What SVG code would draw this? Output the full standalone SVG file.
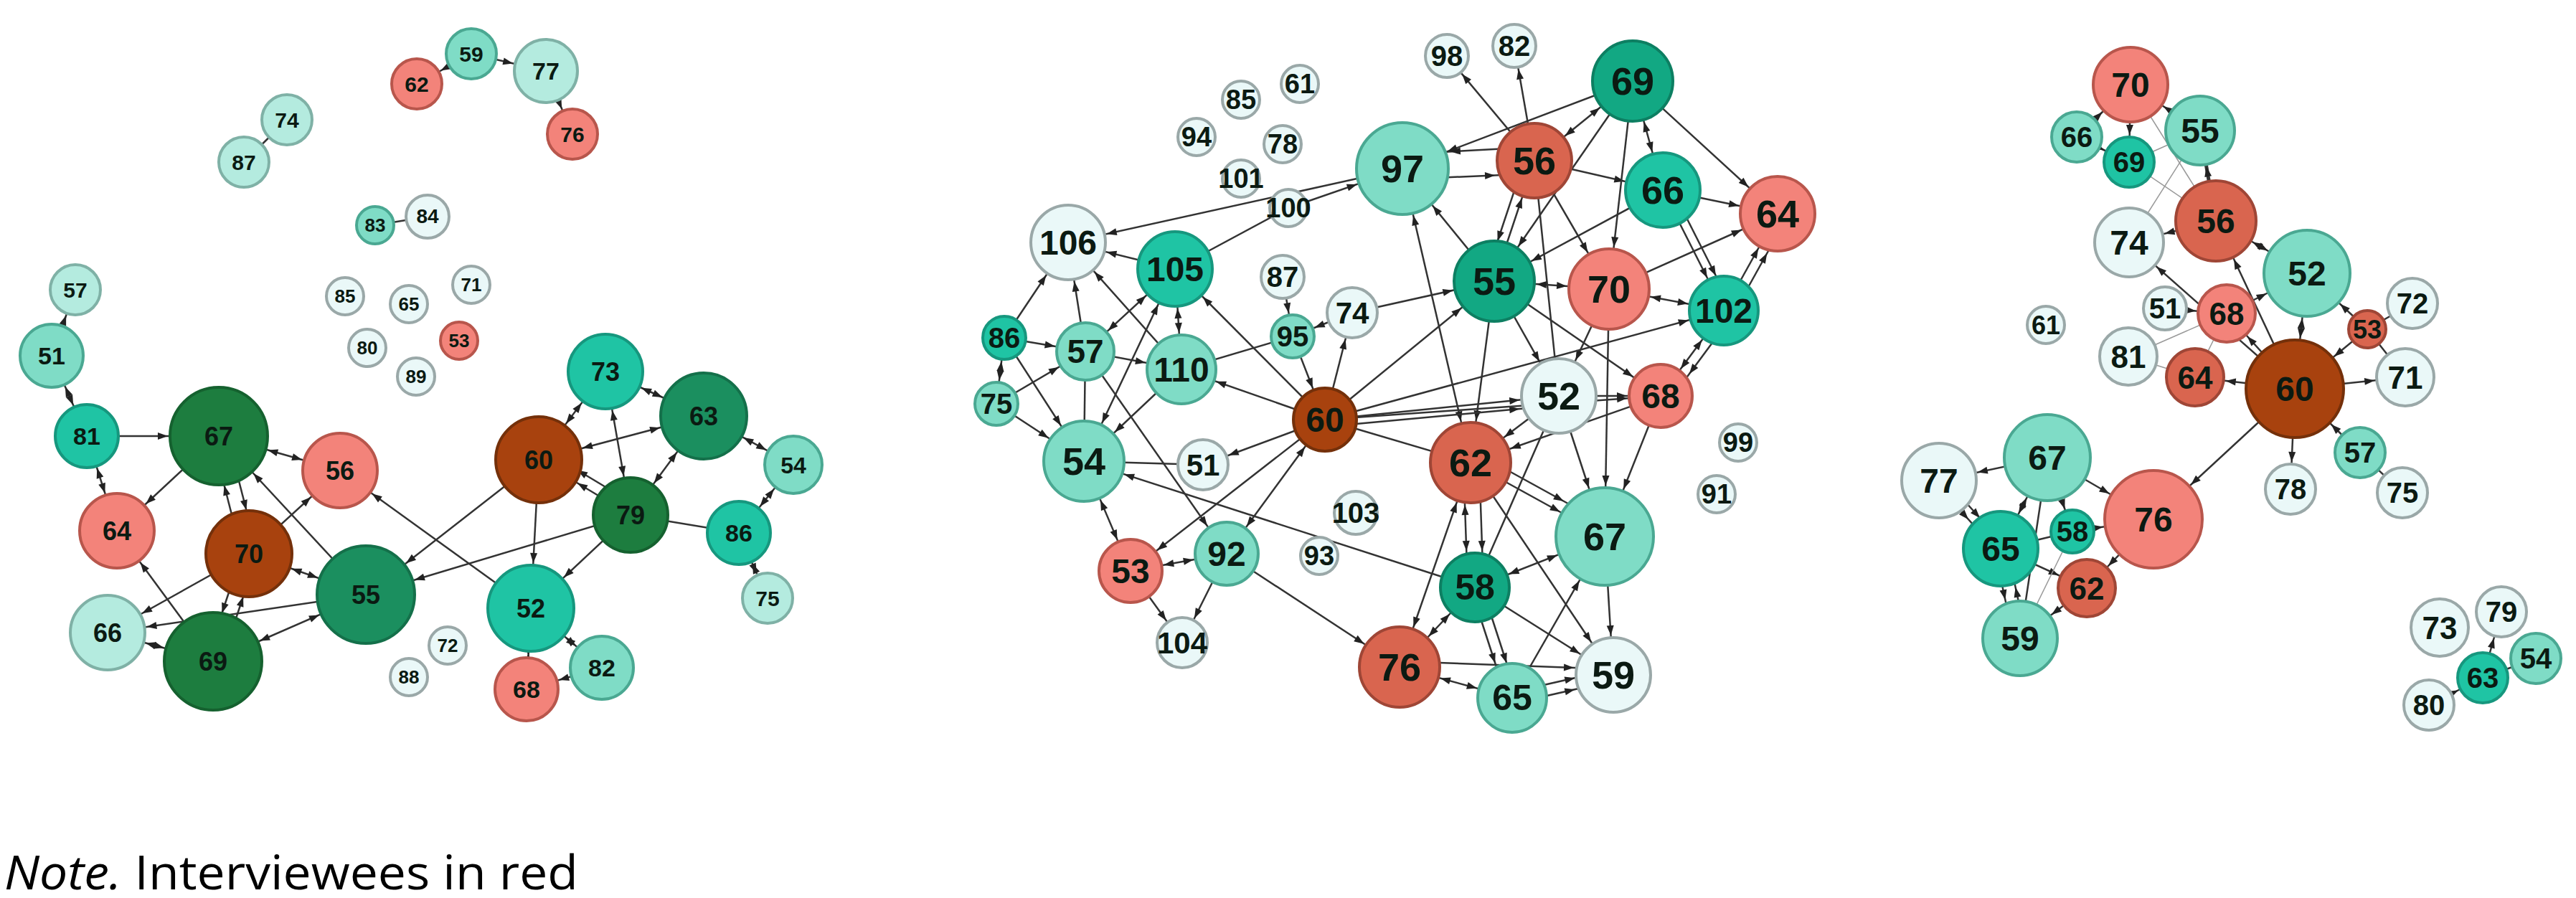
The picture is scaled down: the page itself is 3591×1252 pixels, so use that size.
<svg xmlns="http://www.w3.org/2000/svg" width="3591" height="1252" viewBox="0 0 3591 1252">
<style>
.n circle{stroke-width:4}
.n text{font-family:"Liberation Sans",Arial,sans-serif;font-weight:bold;fill:#0b1a12;text-anchor:middle}
.dg circle{fill:#1d7d3f;stroke:#15612f}
.mg circle{fill:#1b8f5f;stroke:#14704a}
.mg2 circle{fill:#12a883;stroke:#0d7f62}
.tl circle{fill:#1fc4a4;stroke:#16977e}
.lt circle{fill:#7fdcc6;stroke:#4aa892}
.lp circle{fill:#b4ebdf;stroke:#7fb1a6}
.pl circle{fill:#eaf8f8;stroke:#9aa8a8}
.sl circle{fill:#f3837a;stroke:#b8564c}
.sd circle{fill:#d9654f;stroke:#9f4636}
.br circle{fill:#a8420e;stroke:#74300a}
#edges line{stroke:#333;stroke-width:2.5}
#edges line.th{stroke:#999;stroke-width:1.5}
marker path{fill:#222}
.note{font-family:"Open Sans","Liberation Sans",sans-serif;font-size:66px;fill:#000}
</style>
<defs>
<marker id="e26" markerUnits="userSpaceOnUse" markerWidth="1" markerHeight="1" refX="29" refY="0" orient="auto-start-reverse" overflow="visible"><path d="M-14,-5L0,0L-14,5z"/></marker>
<marker id="e30" markerUnits="userSpaceOnUse" markerWidth="1" markerHeight="1" refX="33" refY="0" orient="auto-start-reverse" overflow="visible"><path d="M-14,-5L0,0L-14,5z"/></marker>
<marker id="e35" markerUnits="userSpaceOnUse" markerWidth="1" markerHeight="1" refX="38" refY="0" orient="auto-start-reverse" overflow="visible"><path d="M-14,-5L0,0L-14,5z"/></marker>
<marker id="e40" markerUnits="userSpaceOnUse" markerWidth="1" markerHeight="1" refX="43" refY="0" orient="auto-start-reverse" overflow="visible"><path d="M-14,-5L0,0L-14,5z"/></marker>
<marker id="e44" markerUnits="userSpaceOnUse" markerWidth="1" markerHeight="1" refX="47" refY="0" orient="auto-start-reverse" overflow="visible"><path d="M-14,-5L0,0L-14,5z"/></marker>
<marker id="e48" markerUnits="userSpaceOnUse" markerWidth="1" markerHeight="1" refX="51" refY="0" orient="auto-start-reverse" overflow="visible"><path d="M-14,-5L0,0L-14,5z"/></marker>
<marker id="e52" markerUnits="userSpaceOnUse" markerWidth="1" markerHeight="1" refX="55" refY="0" orient="auto-start-reverse" overflow="visible"><path d="M-14,-5L0,0L-14,5z"/></marker>
<marker id="e56" markerUnits="userSpaceOnUse" markerWidth="1" markerHeight="1" refX="59" refY="0" orient="auto-start-reverse" overflow="visible"><path d="M-14,-5L0,0L-14,5z"/></marker>
<marker id="e60" markerUnits="userSpaceOnUse" markerWidth="1" markerHeight="1" refX="63" refY="0" orient="auto-start-reverse" overflow="visible"><path d="M-14,-5L0,0L-14,5z"/></marker>
<marker id="e64" markerUnits="userSpaceOnUse" markerWidth="1" markerHeight="1" refX="67" refY="0" orient="auto-start-reverse" overflow="visible"><path d="M-14,-5L0,0L-14,5z"/></marker>
<marker id="e68" markerUnits="userSpaceOnUse" markerWidth="1" markerHeight="1" refX="71" refY="0" orient="auto-start-reverse" overflow="visible"><path d="M-14,-5L0,0L-14,5z"/></marker>
</defs>
<rect width="3591" height="1252" fill="#fff"/>
<g id="edges">
<line x1="657" y1="75" x2="581" y2="117" marker-end="url(#e35)"/>
<line x1="657" y1="75" x2="761" y2="99" marker-end="url(#e44)"/>
<line x1="761" y1="99" x2="798" y2="187" marker-end="url(#e35)"/>
<line x1="400" y1="167" x2="340" y2="226"/>
<line x1="523" y1="314" x2="596" y2="302"/>
<line x1="72" y1="496" x2="105" y2="404" marker-end="url(#e35)"/>
<line x1="72" y1="496" x2="121" y2="608" marker-start="url(#e44)" marker-end="url(#e44)"/>
<line x1="121" y1="608" x2="305" y2="608" marker-end="url(#e68)"/>
<line x1="121" y1="608" x2="163" y2="740" marker-start="url(#e44)" marker-end="url(#e52)"/>
<line x1="305" y1="608" x2="163" y2="740" marker-end="url(#e52)"/>
<line x1="305" y1="608" x2="474" y2="656" marker-start="url(#e68)" marker-end="url(#e52)"/>
<line x1="337" y1="772" x2="295" y2="608" marker-end="url(#e68)"/>
<line x1="317" y1="608" x2="359" y2="772" marker-end="url(#e60)"/>
<line x1="510" y1="829" x2="305" y2="608" marker-end="url(#e68)"/>
<line x1="347" y1="772" x2="474" y2="656" marker-end="url(#e52)"/>
<line x1="347" y1="772" x2="510" y2="829" marker-start="url(#e60)" marker-end="url(#e68)"/>
<line x1="347" y1="772" x2="150" y2="882" marker-end="url(#e52)"/>
<line x1="337" y1="772" x2="287" y2="922" marker-end="url(#e68)"/>
<line x1="309" y1="922" x2="359" y2="772" marker-end="url(#e60)"/>
<line x1="297" y1="922" x2="163" y2="740" marker-end="url(#e52)"/>
<line x1="510" y1="829" x2="150" y2="882" marker-end="url(#e52)"/>
<line x1="510" y1="829" x2="297" y2="922" marker-start="url(#e68)" marker-end="url(#e68)"/>
<line x1="150" y1="882" x2="297" y2="922" marker-start="url(#e52)" marker-end="url(#e68)"/>
<line x1="740" y1="848" x2="474" y2="656" marker-end="url(#e52)"/>
<line x1="751" y1="641" x2="510" y2="829" marker-end="url(#e68)"/>
<line x1="751" y1="641" x2="740" y2="848" marker-end="url(#e60)"/>
<line x1="751" y1="641" x2="844" y2="518" marker-start="url(#e60)" marker-end="url(#e52)"/>
<line x1="981" y1="580" x2="751" y2="641" marker-start="url(#e60)" marker-end="url(#e60)"/>
<line x1="879" y1="718" x2="751" y2="641" marker-end="url(#e60)"/>
<line x1="879" y1="700" x2="751" y2="623" marker-end="url(#e60)"/>
<line x1="879" y1="718" x2="844" y2="518" marker-start="url(#e52)" marker-end="url(#e52)"/>
<line x1="981" y1="580" x2="844" y2="518" marker-start="url(#e60)" marker-end="url(#e52)"/>
<line x1="879" y1="718" x2="981" y2="580" marker-start="url(#e52)" marker-end="url(#e60)"/>
<line x1="879" y1="718" x2="510" y2="829" marker-end="url(#e68)"/>
<line x1="879" y1="718" x2="740" y2="848" marker-end="url(#e60)"/>
<line x1="981" y1="580" x2="1106" y2="648" marker-start="url(#e60)" marker-end="url(#e40)"/>
<line x1="879" y1="718" x2="1030" y2="743"/>
<line x1="1030" y1="743" x2="1106" y2="648" marker-start="url(#e44)" marker-end="url(#e40)"/>
<line x1="1030" y1="743" x2="1070" y2="834" marker-start="url(#e44)" marker-end="url(#e35)"/>
<line x1="740" y1="848" x2="734" y2="961" marker-start="url(#e60)" marker-end="url(#e44)"/>
<line x1="740" y1="848" x2="839" y2="931" marker-start="url(#e60)" marker-end="url(#e44)"/>
<line x1="839" y1="931" x2="734" y2="961" marker-end="url(#e44)"/>
<line x1="2139" y1="224" x2="2017" y2="78" marker-end="url(#e30)"/>
<line x1="2139" y1="224" x2="2111" y2="64" marker-end="url(#e30)"/>
<line x1="2139" y1="224" x2="2276" y2="113" marker-start="url(#e52)" marker-end="url(#e56)"/>
<line x1="2139" y1="205" x2="1955" y2="215" marker-end="url(#e64)"/>
<line x1="1955" y1="250" x2="2139" y2="242" marker-end="url(#e52)"/>
<line x1="2276" y1="113" x2="1955" y2="235" marker-end="url(#e64)"/>
<line x1="2139" y1="224" x2="2318" y2="265" marker-end="url(#e52)"/>
<line x1="2083" y1="392" x2="2139" y2="224" marker-end="url(#e52)"/>
<line x1="2125" y1="224" x2="2069" y2="392" marker-end="url(#e56)"/>
<line x1="2139" y1="224" x2="2243" y2="403" marker-end="url(#e56)"/>
<line x1="2139" y1="224" x2="2173" y2="552"/>
<line x1="2276" y1="113" x2="2243" y2="403" marker-end="url(#e56)"/>
<line x1="2276" y1="113" x2="2318" y2="265" marker-start="url(#e56)" marker-end="url(#e52)"/>
<line x1="2276" y1="113" x2="2478" y2="298" marker-end="url(#e52)"/>
<line x1="2276" y1="113" x2="2083" y2="392" marker-end="url(#e56)"/>
<line x1="2318" y1="265" x2="2478" y2="298" marker-end="url(#e52)"/>
<line x1="2318" y1="265" x2="2403" y2="433" marker-end="url(#e48)"/>
<line x1="2330" y1="262" x2="2415" y2="430" marker-end="url(#e48)"/>
<line x1="2318" y1="265" x2="2083" y2="392" marker-end="url(#e56)"/>
<line x1="2243" y1="403" x2="2478" y2="298" marker-end="url(#e52)"/>
<line x1="2243" y1="403" x2="2403" y2="433" marker-start="url(#e56)" marker-end="url(#e48)"/>
<line x1="2243" y1="403" x2="2083" y2="392" marker-start="url(#e56)" marker-end="url(#e56)"/>
<line x1="2243" y1="403" x2="2237" y2="748" marker-end="url(#e68)"/>
<line x1="2243" y1="403" x2="2173" y2="552" marker-end="url(#e52)"/>
<line x1="2403" y1="433" x2="2478" y2="298" marker-end="url(#e52)"/>
<line x1="2415" y1="440" x2="2490" y2="305" marker-end="url(#e52)"/>
<line x1="2403" y1="433" x2="2315" y2="552" marker-start="url(#e48)" marker-end="url(#e44)"/>
<line x1="2415" y1="440" x2="2327" y2="559" marker-end="url(#e44)"/>
<line x1="1847" y1="585" x2="2403" y2="433" marker-end="url(#e48)"/>
<line x1="2083" y1="392" x2="1955" y2="235" marker-end="url(#e64)"/>
<line x1="2083" y1="392" x2="2050" y2="645" marker-end="url(#e56)"/>
<line x1="2083" y1="392" x2="2173" y2="552" marker-end="url(#e52)"/>
<line x1="2083" y1="392" x2="2315" y2="552" marker-end="url(#e44)"/>
<line x1="1955" y1="235" x2="2050" y2="645" marker-start="url(#e64)" marker-end="url(#e56)"/>
<line x1="1847" y1="585" x2="2083" y2="392" marker-end="url(#e56)"/>
<line x1="1847" y1="585" x2="2173" y2="552" marker-end="url(#e52)"/>
<line x1="1847" y1="595" x2="2173" y2="565" marker-end="url(#e52)"/>
<line x1="1847" y1="585" x2="2315" y2="552" marker-end="url(#e44)"/>
<line x1="1847" y1="585" x2="2050" y2="645"/>
<line x1="1847" y1="585" x2="1638" y2="375" marker-end="url(#e52)"/>
<line x1="1847" y1="585" x2="1647" y2="515" marker-end="url(#e48)"/>
<line x1="1847" y1="585" x2="1677" y2="648" marker-end="url(#e35)"/>
<line x1="1847" y1="585" x2="1576" y2="796" marker-end="url(#e44)"/>
<line x1="1847" y1="585" x2="1710" y2="772" marker-start="url(#e44)" marker-end="url(#e44)"/>
<line x1="1847" y1="585" x2="1885" y2="436" marker-end="url(#e35)"/>
<line x1="1802" y1="469" x2="1847" y2="585" marker-end="url(#e44)"/>
<line x1="1788" y1="386" x2="1802" y2="469" marker-end="url(#e30)"/>
<line x1="1885" y1="436" x2="1802" y2="469" marker-end="url(#e30)"/>
<line x1="1885" y1="436" x2="2083" y2="392" marker-end="url(#e56)"/>
<line x1="1647" y1="515" x2="1802" y2="469"/>
<line x1="1638" y1="375" x2="1647" y2="515" marker-start="url(#e52)" marker-end="url(#e48)"/>
<line x1="1638" y1="375" x2="1489" y2="338" marker-end="url(#e52)"/>
<line x1="1955" y1="235" x2="1489" y2="338" marker-end="url(#e52)"/>
<line x1="1796" y1="290" x2="1955" y2="235" marker-end="url(#e64)"/>
<line x1="1638" y1="375" x2="1796" y2="290"/>
<line x1="1400" y1="471" x2="1489" y2="338" marker-end="url(#e52)"/>
<line x1="1513" y1="490" x2="1489" y2="338" marker-end="url(#e52)"/>
<line x1="1647" y1="515" x2="1489" y2="338" marker-end="url(#e52)"/>
<line x1="1400" y1="471" x2="1513" y2="490" marker-end="url(#e40)"/>
<line x1="1400" y1="471" x2="1389" y2="563" marker-start="url(#e30)" marker-end="url(#e30)"/>
<line x1="1400" y1="471" x2="1511" y2="643" marker-end="url(#e56)"/>
<line x1="1389" y1="563" x2="1513" y2="490" marker-end="url(#e40)"/>
<line x1="1389" y1="563" x2="1511" y2="643" marker-end="url(#e56)"/>
<line x1="1513" y1="490" x2="1511" y2="643"/>
<line x1="1513" y1="490" x2="1647" y2="515" marker-end="url(#e48)"/>
<line x1="1513" y1="490" x2="1710" y2="772" marker-end="url(#e44)"/>
<line x1="1638" y1="375" x2="1513" y2="490" marker-start="url(#e52)" marker-end="url(#e40)"/>
<line x1="1638" y1="375" x2="1511" y2="643" marker-start="url(#e52)" marker-end="url(#e56)"/>
<line x1="1647" y1="515" x2="1511" y2="643" marker-end="url(#e56)"/>
<line x1="1511" y1="643" x2="1677" y2="648"/>
<line x1="2056" y1="819" x2="1511" y2="643" marker-end="url(#e56)"/>
<line x1="1511" y1="643" x2="1576" y2="796" marker-start="url(#e56)" marker-end="url(#e44)"/>
<line x1="1576" y1="796" x2="1710" y2="772" marker-start="url(#e44)" marker-end="url(#e44)"/>
<line x1="1576" y1="796" x2="1648" y2="896" marker-end="url(#e35)"/>
<line x1="1710" y1="772" x2="1648" y2="896" marker-end="url(#e35)"/>
<line x1="1710" y1="772" x2="1951" y2="930" marker-end="url(#e56)"/>
<line x1="2040" y1="645" x2="2046" y2="819" marker-start="url(#e56)" marker-end="url(#e48)"/>
<line x1="2062" y1="645" x2="2068" y2="819" marker-end="url(#e48)"/>
<line x1="2050" y1="645" x2="2237" y2="748" marker-end="url(#e68)"/>
<line x1="2055" y1="630" x2="2242" y2="733" marker-end="url(#e68)"/>
<line x1="2050" y1="645" x2="2249" y2="941" marker-end="url(#e52)"/>
<line x1="2050" y1="645" x2="1951" y2="930" marker-start="url(#e56)" marker-end="url(#e56)"/>
<line x1="2173" y1="552" x2="2050" y2="645" marker-end="url(#e56)"/>
<line x1="2173" y1="552" x2="2056" y2="819"/>
<line x1="2173" y1="552" x2="2237" y2="748" marker-end="url(#e68)"/>
<line x1="2173" y1="552" x2="2315" y2="552" marker-end="url(#e44)"/>
<line x1="2315" y1="552" x2="2237" y2="748" marker-end="url(#e68)"/>
<line x1="2315" y1="552" x2="2050" y2="645" marker-end="url(#e56)"/>
<line x1="2237" y1="748" x2="2249" y2="941" marker-end="url(#e52)"/>
<line x1="2056" y1="819" x2="2237" y2="748" marker-start="url(#e48)" marker-end="url(#e68)"/>
<line x1="2056" y1="819" x2="1951" y2="930" marker-start="url(#e48)" marker-end="url(#e56)"/>
<line x1="2050" y1="819" x2="2100" y2="973" marker-end="url(#e48)"/>
<line x1="2066" y1="819" x2="2116" y2="973" marker-end="url(#e48)"/>
<line x1="2056" y1="819" x2="2249" y2="941" marker-end="url(#e52)"/>
<line x1="1951" y1="922" x2="2249" y2="933" marker-end="url(#e52)"/>
<line x1="1951" y1="930" x2="2108" y2="973" marker-start="url(#e56)" marker-end="url(#e48)"/>
<line x1="2108" y1="965" x2="2249" y2="933" marker-end="url(#e52)"/>
<line x1="2108" y1="981" x2="2249" y2="949" marker-end="url(#e52)"/>
<line x1="2108" y1="973" x2="2237" y2="748" marker-end="url(#e68)"/>
<line x1="2895" y1="191" x2="2970" y2="118" marker-end="url(#e52)"/>
<line x1="2970" y1="118" x2="2968" y2="226" marker-end="url(#e35)"/>
<line x1="2895" y1="191" x2="2968" y2="226" marker-end="url(#e35)"/>
<line x1="3067" y1="182" x2="2970" y2="118" marker-end="url(#e52)"/>
<line class="th" x1="2970" y1="118" x2="3089" y2="308"/>
<line class="th" x1="2968" y1="226" x2="3067" y2="182"/>
<line x1="3089" y1="308" x2="3067" y2="182" marker-end="url(#e48)" style="stroke-width:5"/>
<line class="th" x1="3067" y1="182" x2="2968" y2="338"/>
<line class="th" x1="2968" y1="226" x2="3089" y2="308"/>
<line x1="3089" y1="308" x2="2968" y2="338" marker-end="url(#e48)"/>
<line x1="3216" y1="381" x2="3089" y2="308" marker-start="url(#e60)" marker-end="url(#e56)"/>
<line x1="3199" y1="542" x2="3089" y2="308" marker-end="url(#e56)"/>
<line x1="3199" y1="542" x2="2968" y2="338" marker-end="url(#e48)"/>
<line x1="3104" y1="437" x2="3216" y2="381" marker-end="url(#e60)"/>
<line x1="3199" y1="542" x2="3216" y2="381" marker-start="url(#e68)" marker-end="url(#e60)"/>
<line x1="3300" y1="459" x2="3216" y2="381" marker-end="url(#e60)"/>
<line x1="3300" y1="459" x2="3363" y2="423"/>
<line x1="3300" y1="459" x2="3353" y2="526"/>
<line x1="3300" y1="459" x2="3199" y2="542" marker-end="url(#e68)"/>
<line x1="3199" y1="542" x2="3353" y2="526" marker-end="url(#e40)"/>
<line x1="3199" y1="542" x2="3104" y2="437" marker-end="url(#e40)"/>
<line x1="3018" y1="430" x2="3104" y2="437" marker-end="url(#e40)"/>
<line class="th" x1="2967" y1="497" x2="3104" y2="437"/>
<line class="th" x1="2967" y1="497" x2="3060" y2="526"/>
<line x1="3199" y1="542" x2="3060" y2="526" marker-end="url(#e40)"/>
<line class="th" x1="3060" y1="526" x2="3104" y2="437"/>
<line x1="3199" y1="542" x2="3193" y2="682" marker-end="url(#e35)"/>
<line x1="3290" y1="631" x2="3199" y2="542" marker-end="url(#e68)"/>
<line x1="3290" y1="631" x2="3349" y2="687"/>
<line x1="3199" y1="542" x2="3002" y2="724" marker-end="url(#e68)"/>
<line x1="2854" y1="638" x2="2703" y2="670" marker-end="url(#e52)"/>
<line x1="2854" y1="638" x2="3002" y2="724" marker-end="url(#e68)"/>
<line x1="2854" y1="638" x2="2789" y2="765" marker-start="url(#e60)" marker-end="url(#e52)"/>
<line x1="2854" y1="638" x2="2816" y2="890"/>
<line x1="2854" y1="638" x2="2889" y2="741" marker-end="url(#e30)"/>
<line x1="2889" y1="741" x2="3002" y2="724" marker-end="url(#e68)"/>
<line x1="2789" y1="765" x2="2889" y2="741"/>
<line x1="2695" y1="670" x2="2781" y2="765" marker-end="url(#e52)"/>
<line x1="2711" y1="668" x2="2797" y2="763" marker-end="url(#e52)"/>
<line x1="2789" y1="765" x2="2909" y2="820" marker-end="url(#e40)"/>
<line x1="2780" y1="765" x2="2807" y2="890" marker-end="url(#e52)"/>
<line x1="2798" y1="765" x2="2825" y2="890" marker-start="url(#e52)"/>
<line class="th" x1="2889" y1="741" x2="2816" y2="890"/>
<line x1="3002" y1="724" x2="2909" y2="820" marker-end="url(#e40)"/>
<line x1="2909" y1="820" x2="2816" y2="890" marker-end="url(#e52)"/>
<line x1="3461" y1="945" x2="3487" y2="853" marker-end="url(#e35)"/>
<line x1="3461" y1="945" x2="3535" y2="918"/>
<line x1="3386" y1="983" x2="3461" y2="945" marker-end="url(#e35)"/>
</g>
<g id="panel1">
<g id="a59" class="n lt"><circle cx="657" cy="75" r="35"/><text x="657" y="86" font-size="30">59</text></g>
<g id="a62" class="n sl"><circle cx="581" cy="117" r="35"/><text x="581" y="128" font-size="30">62</text></g>
<g id="a77" class="n lp"><circle cx="761" cy="99" r="44"/><text x="761" y="111" font-size="34">77</text></g>
<g id="a76" class="n sl"><circle cx="798" cy="187" r="35"/><text x="798" y="198" font-size="30">76</text></g>
<g id="a74" class="n lp"><circle cx="400" cy="167" r="35"/><text x="400" y="178" font-size="30">74</text></g>
<g id="a87" class="n lp"><circle cx="340" cy="226" r="35"/><text x="340" y="237" font-size="30">87</text></g>
<g id="a83" class="n lt"><circle cx="523" cy="314" r="26"/><text x="523" y="323" font-size="26">83</text></g>
<g id="a84" class="n pl"><circle cx="596" cy="302" r="30"/><text x="596" y="311" font-size="28">84</text></g>
<g id="a85" class="n pl"><circle cx="481" cy="413" r="26"/><text x="481" y="422" font-size="26">85</text></g>
<g id="a65" class="n pl"><circle cx="570" cy="424" r="26"/><text x="570" y="433" font-size="26">65</text></g>
<g id="a71" class="n pl"><circle cx="657" cy="397" r="26"/><text x="657" y="406" font-size="26">71</text></g>
<g id="a80" class="n pl"><circle cx="512" cy="485" r="26"/><text x="512" y="494" font-size="26">80</text></g>
<g id="a53" class="n sl"><circle cx="640" cy="475" r="26"/><text x="640" y="484" font-size="26">53</text></g>
<g id="a89" class="n pl"><circle cx="580" cy="525" r="26"/><text x="580" y="534" font-size="26">89</text></g>
<g id="a57" class="n lp"><circle cx="105" cy="404" r="35"/><text x="105" y="415" font-size="30">57</text></g>
<g id="a51" class="n lt"><circle cx="72" cy="496" r="44"/><text x="72" y="508" font-size="34">51</text></g>
<g id="a81" class="n tl"><circle cx="121" cy="608" r="44"/><text x="121" y="620" font-size="34">81</text></g>
<g id="a67" class="n dg"><circle cx="305" cy="608" r="68"/><text x="305" y="621" font-size="36">67</text></g>
<g id="a56" class="n sl"><circle cx="474" cy="656" r="52"/><text x="474" y="669" font-size="36">56</text></g>
<g id="a64" class="n sl"><circle cx="163" cy="740" r="52"/><text x="163" y="753" font-size="36">64</text></g>
<g id="a70" class="n br"><circle cx="347" cy="772" r="60"/><text x="347" y="785" font-size="36">70</text></g>
<g id="a55" class="n mg"><circle cx="510" cy="829" r="68"/><text x="510" y="842" font-size="36">55</text></g>
<g id="a66" class="n lp"><circle cx="150" cy="882" r="52"/><text x="150" y="895" font-size="36">66</text></g>
<g id="a69" class="n dg"><circle cx="297" cy="922" r="68"/><text x="297" y="935" font-size="36">69</text></g>
<g id="a60" class="n br"><circle cx="751" cy="641" r="60"/><text x="751" y="654" font-size="36">60</text></g>
<g id="a73" class="n tl"><circle cx="844" cy="518" r="52"/><text x="844" y="531" font-size="36">73</text></g>
<g id="a63" class="n mg"><circle cx="981" cy="580" r="60"/><text x="981" y="593" font-size="36">63</text></g>
<g id="a79" class="n dg"><circle cx="879" cy="718" r="52"/><text x="879" y="731" font-size="36">79</text></g>
<g id="a86" class="n tl"><circle cx="1030" cy="743" r="44"/><text x="1030" y="755" font-size="34">86</text></g>
<g id="a54" class="n lt"><circle cx="1106" cy="648" r="40"/><text x="1106" y="660" font-size="32">54</text></g>
<g id="a75" class="n lp"><circle cx="1070" cy="834" r="35"/><text x="1070" y="845" font-size="30">75</text></g>
<g id="a52" class="n tl"><circle cx="740" cy="848" r="60"/><text x="740" y="861" font-size="36">52</text></g>
<g id="a72" class="n pl"><circle cx="624" cy="900" r="26"/><text x="624" y="909" font-size="26">72</text></g>
<g id="a88" class="n pl"><circle cx="570" cy="944" r="26"/><text x="570" y="953" font-size="26">88</text></g>
<g id="a82" class="n lt"><circle cx="839" cy="931" r="44"/><text x="839" y="943" font-size="34">82</text></g>
<g id="a68" class="n sl"><circle cx="734" cy="961" r="44"/><text x="734" y="973" font-size="34">68</text></g>
</g>
<g id="panel2">
<g id="b98" class="n pl"><circle cx="2017" cy="78" r="30"/><text x="2017" y="92" font-size="40">98</text></g>
<g id="b82" class="n pl"><circle cx="2111" cy="64" r="30"/><text x="2111" y="78" font-size="40">82</text></g>
<g id="b69" class="n mg2"><circle cx="2276" cy="113" r="56"/><text x="2276" y="132" font-size="54">69</text></g>
<g id="b85" class="n pl"><circle cx="1730" cy="139" r="26"/><text x="1730" y="152" font-size="38">85</text></g>
<g id="b61" class="n pl"><circle cx="1812" cy="117" r="26"/><text x="1812" y="130" font-size="38">61</text></g>
<g id="b94" class="n pl"><circle cx="1668" cy="191" r="26"/><text x="1668" y="204" font-size="38">94</text></g>
<g id="b78" class="n pl"><circle cx="1788" cy="201" r="26"/><text x="1788" y="214" font-size="38">78</text></g>
<g id="b101" class="n pl"><circle cx="1730" cy="249" r="26"/><text x="1730" y="262" font-size="38">101</text></g>
<g id="b100" class="n pl"><circle cx="1796" cy="290" r="26"/><text x="1796" y="303" font-size="38">100</text></g>
<g id="b97" class="n lt"><circle cx="1955" cy="235" r="64"/><text x="1955" y="254" font-size="54">97</text></g>
<g id="b56" class="n sd"><circle cx="2139" cy="224" r="52"/><text x="2139" y="243" font-size="54">56</text></g>
<g id="b66" class="n tl"><circle cx="2318" cy="265" r="52"/><text x="2318" y="284" font-size="54">66</text></g>
<g id="b64" class="n sl"><circle cx="2478" cy="298" r="52"/><text x="2478" y="317" font-size="54">64</text></g>
<g id="b106" class="n pl"><circle cx="1489" cy="338" r="52"/><text x="1489" y="355" font-size="48">106</text></g>
<g id="b105" class="n tl"><circle cx="1638" cy="375" r="52"/><text x="1638" y="392" font-size="48">105</text></g>
<g id="b87" class="n pl"><circle cx="1788" cy="386" r="30"/><text x="1788" y="400" font-size="40">87</text></g>
<g id="b74" class="n pl"><circle cx="1885" cy="436" r="35"/><text x="1885" y="451" font-size="42">74</text></g>
<g id="b55" class="n mg2"><circle cx="2083" cy="392" r="56"/><text x="2083" y="411" font-size="54">55</text></g>
<g id="b70" class="n sl"><circle cx="2243" cy="403" r="56"/><text x="2243" y="422" font-size="54">70</text></g>
<g id="b102" class="n tl"><circle cx="2403" cy="433" r="48"/><text x="2403" y="450" font-size="48">102</text></g>
<g id="b86" class="n tl"><circle cx="1400" cy="471" r="30"/><text x="1400" y="485" font-size="40">86</text></g>
<g id="b57" class="n lt"><circle cx="1513" cy="490" r="40"/><text x="1513" y="506" font-size="46">57</text></g>
<g id="b110" class="n lt"><circle cx="1647" cy="515" r="48"/><text x="1647" y="532" font-size="48">110</text></g>
<g id="b95" class="n lt"><circle cx="1802" cy="469" r="30"/><text x="1802" y="483" font-size="40">95</text></g>
<g id="b75" class="n lt"><circle cx="1389" cy="563" r="30"/><text x="1389" y="577" font-size="40">75</text></g>
<g id="b54" class="n lt"><circle cx="1511" cy="643" r="56"/><text x="1511" y="662" font-size="54">54</text></g>
<g id="b51" class="n pl"><circle cx="1677" cy="648" r="35"/><text x="1677" y="663" font-size="42">51</text></g>
<g id="b60" class="n br"><circle cx="1847" cy="585" r="44"/><text x="1847" y="602" font-size="48">60</text></g>
<g id="b52" class="n pl"><circle cx="2173" cy="552" r="52"/><text x="2173" y="571" font-size="54">52</text></g>
<g id="b68" class="n sl"><circle cx="2315" cy="552" r="44"/><text x="2315" y="569" font-size="48">68</text></g>
<g id="b62" class="n sd"><circle cx="2050" cy="645" r="56"/><text x="2050" y="664" font-size="54">62</text></g>
<g id="b99" class="n pl"><circle cx="2423" cy="617" r="26"/><text x="2423" y="630" font-size="38">99</text></g>
<g id="b91" class="n pl"><circle cx="2393" cy="689" r="26"/><text x="2393" y="702" font-size="38">91</text></g>
<g id="b103" class="n pl"><circle cx="1890" cy="715" r="30"/><text x="1890" y="729" font-size="40">103</text></g>
<g id="b93" class="n pl"><circle cx="1839" cy="775" r="26"/><text x="1839" y="788" font-size="38">93</text></g>
<g id="b67" class="n lt"><circle cx="2237" cy="748" r="68"/><text x="2237" y="767" font-size="54">67</text></g>
<g id="b53" class="n sl"><circle cx="1576" cy="796" r="44"/><text x="1576" y="813" font-size="48">53</text></g>
<g id="b92" class="n lt"><circle cx="1710" cy="772" r="44"/><text x="1710" y="789" font-size="48">92</text></g>
<g id="b58" class="n mg2"><circle cx="2056" cy="819" r="48"/><text x="2056" y="836" font-size="50">58</text></g>
<g id="b104" class="n pl"><circle cx="1648" cy="896" r="35"/><text x="1648" y="911" font-size="42">104</text></g>
<g id="b76" class="n sd"><circle cx="1951" cy="930" r="56"/><text x="1951" y="949" font-size="54">76</text></g>
<g id="b65" class="n lt"><circle cx="2108" cy="973" r="48"/><text x="2108" y="990" font-size="50">65</text></g>
<g id="b59" class="n pl"><circle cx="2249" cy="941" r="52"/><text x="2249" y="960" font-size="54">59</text></g>
</g>
<g id="panel3">
<g id="c70" class="n sl"><circle cx="2970" cy="118" r="52"/><text x="2970" y="135" font-size="48">70</text></g>
<g id="c66" class="n lt"><circle cx="2895" cy="191" r="35"/><text x="2895" y="205" font-size="40">66</text></g>
<g id="c55" class="n lt"><circle cx="3067" cy="182" r="48"/><text x="3067" y="199" font-size="48">55</text></g>
<g id="c69" class="n tl"><circle cx="2968" cy="226" r="35"/><text x="2968" y="240" font-size="40">69</text></g>
<g id="c56" class="n sd"><circle cx="3089" cy="308" r="56"/><text x="3089" y="325" font-size="48">56</text></g>
<g id="c74" class="n pl"><circle cx="2968" cy="338" r="48"/><text x="2968" y="355" font-size="48">74</text></g>
<g id="c52" class="n lt"><circle cx="3216" cy="381" r="60"/><text x="3216" y="398" font-size="48">52</text></g>
<g id="c51" class="n pl"><circle cx="3018" cy="430" r="30"/><text x="3018" y="444" font-size="40">51</text></g>
<g id="c68" class="n sl"><circle cx="3104" cy="437" r="40"/><text x="3104" y="453" font-size="44">68</text></g>
<g id="c72" class="n pl"><circle cx="3363" cy="423" r="35"/><text x="3363" y="437" font-size="40">72</text></g>
<g id="c53" class="n sd"><circle cx="3300" cy="459" r="26"/><text x="3300" y="472" font-size="36">53</text></g>
<g id="c61" class="n pl"><circle cx="2852" cy="453" r="26"/><text x="2852" y="466" font-size="36">61</text></g>
<g id="c81" class="n pl"><circle cx="2967" cy="497" r="40"/><text x="2967" y="513" font-size="44">81</text></g>
<g id="c64" class="n sd"><circle cx="3060" cy="526" r="40"/><text x="3060" y="542" font-size="44">64</text></g>
<g id="c60" class="n br"><circle cx="3199" cy="542" r="68"/><text x="3199" y="559" font-size="48">60</text></g>
<g id="c71" class="n pl"><circle cx="3353" cy="526" r="40"/><text x="3353" y="542" font-size="44">71</text></g>
<g id="c57" class="n lt"><circle cx="3290" cy="631" r="35"/><text x="3290" y="645" font-size="40">57</text></g>
<g id="c78" class="n pl"><circle cx="3193" cy="682" r="35"/><text x="3193" y="696" font-size="40">78</text></g>
<g id="c75" class="n pl"><circle cx="3349" cy="687" r="35"/><text x="3349" y="701" font-size="40">75</text></g>
<g id="c67" class="n lt"><circle cx="2854" cy="638" r="60"/><text x="2854" y="655" font-size="48">67</text></g>
<g id="c77" class="n pl"><circle cx="2703" cy="670" r="52"/><text x="2703" y="687" font-size="48">77</text></g>
<g id="c76" class="n sl"><circle cx="3002" cy="724" r="68"/><text x="3002" y="741" font-size="48">76</text></g>
<g id="c58" class="n tl"><circle cx="2889" cy="741" r="30"/><text x="2889" y="755" font-size="40">58</text></g>
<g id="c65" class="n tl"><circle cx="2789" cy="765" r="52"/><text x="2789" y="782" font-size="48">65</text></g>
<g id="c62" class="n sd"><circle cx="2909" cy="820" r="40"/><text x="2909" y="836" font-size="44">62</text></g>
<g id="c59" class="n lt"><circle cx="2816" cy="890" r="52"/><text x="2816" y="907" font-size="48">59</text></g>
<g id="c73" class="n pl"><circle cx="3401" cy="875" r="40"/><text x="3401" y="891" font-size="44">73</text></g>
<g id="c79" class="n pl"><circle cx="3487" cy="853" r="35"/><text x="3487" y="867" font-size="40">79</text></g>
<g id="c54" class="n lt"><circle cx="3535" cy="918" r="35"/><text x="3535" y="932" font-size="40">54</text></g>
<g id="c63" class="n tl"><circle cx="3461" cy="945" r="35"/><text x="3461" y="959" font-size="40">63</text></g>
<g id="c80" class="n pl"><circle cx="3386" cy="983" r="35"/><text x="3386" y="997" font-size="40">80</text></g>
</g>
<text class="note" x="6" y="1240" textLength="800" lengthAdjust="spacingAndGlyphs"><tspan font-style="italic">Note.</tspan> Interviewees in red</text>
</svg>
